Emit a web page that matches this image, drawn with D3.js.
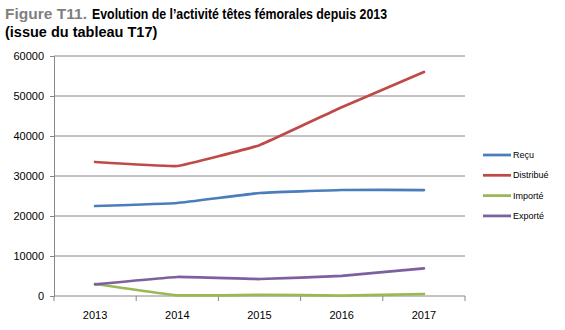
<!DOCTYPE html>
<html>
<head>
<meta charset="utf-8">
<script src="https://cdn.jsdelivr.net/npm/d3@7"></script>
<style>
    body { margin: 0; background: #fff; }
    svg { display: block; font-family: "Liberation Sans", Arial, sans-serif; }
</style>
</head>
<body>
<div id="chart"></div>
<script>
const years = ['2013', '2014', '2015', '2016', '2017'];
const recu = [22500, 23250, 25750, 26500, 26500];
const distribue = [33500, 32500, 37700, 47200, 56000];
const importe = [3000, 150, 300, 100, 500];
const exporte = [2900, 4750, 4250, 5050, 6900];
const yTicks = [0, 10000, 20000, 30000, 40000, 50000, 60000];

const series = [
    {name: 'Reçu', values: recu, color: '#4a7ebb'},
    {name: 'Distribué', values: distribue, color: '#be4b48'},
    {name: 'Importé', values: importe, color: '#98b954'},
    {name: 'Exporté', values: exporte, color: '#7d60a0'}
];

const width = 565;
const height = 330;
const margin = {top: 56, left: 54, right: 100, bottom: 34};
const chartWidth = width - margin.left - margin.right;
const chartHeight = height - margin.top - margin.bottom;

const svg = d3.select('#chart')
  .append('svg')
    .attr('width', width)
    .attr('height', height);

// title: the main part is squeezed horizontally, like in the source
svg.append('text')
    .attr('x', 5)
    .attr('y', 19)
    .attr('font-size', 14.5)
    .attr('font-weight', 'bold')
    .attr('fill', '#7f7f7f')
    .attr('textLength', 82)
    .attr('lengthAdjust', 'spacingAndGlyphs')
    .text('Figure T11.');
svg.append('text')
    .attr('x', 92)
    .attr('y', 19)
    .attr('font-size', 14.5)
    .attr('font-weight', 'bold')
    .attr('fill', '#000')
    .attr('textLength', 295)
    .attr('lengthAdjust', 'spacingAndGlyphs')
    .text('Evolution de l\u2019activité têtes fémorales depuis 2013');
svg.append('text')
    .attr('x', 5)
    .attr('y', 37)
    .attr('font-size', 14.5)
    .attr('font-weight', 'bold')
    .attr('fill', '#000')
    .text('(issue du tableau T17)');

const xScale = d3.scaleBand()
    .domain(years)
    .range([0, chartWidth]);

const yScale = d3.scaleLinear()
    .domain([0, 60000])
    .range([chartHeight, 0]);

const g = svg.append('g')
    .attr('transform', `translate(${margin.left},${margin.top})`);

// gridlines
g.append('g')
  .selectAll('line')
    .data(yTicks.slice(1))
  .enter().append('line')
    .attr('x1', 0)
    .attr('x2', chartWidth)
    .attr('y1', d => yScale(d))
    .attr('y2', d => yScale(d))
    .attr('stroke', '#868686')
    .attr('stroke-width', 1);

// y axis
const yAxis = g.append('g')
    .call(d3.axisLeft(yScale).tickValues(yTicks).tickSize(4).tickPadding(6).tickFormat(d3.format('d')));
yAxis.select('.domain').attr('stroke', '#868686');
yAxis.selectAll('.tick line').attr('stroke', '#868686');
yAxis.selectAll('text').attr('font-size', 11).attr('fill', '#000')
    .attr('font-family', '"Liberation Sans", Arial, sans-serif');

// x axis with ticks between categories
const xAxis = g.append('g')
    .attr('transform', `translate(0,${chartHeight})`);
xAxis.append('line')
    .attr('x1', 0).attr('x2', chartWidth)
    .attr('stroke', '#868686');
xAxis.selectAll('.xtick')
    .data(d3.range(years.length + 1))
  .enter().append('line')
    .attr('x1', i => i * xScale.bandwidth())
    .attr('x2', i => i * xScale.bandwidth())
    .attr('y1', 0)
    .attr('y2', 5)
    .attr('stroke', '#868686');
xAxis.selectAll('.xlabel')
    .data(years)
  .enter().append('text')
    .attr('x', d => xScale(d) + xScale.bandwidth() / 2)
    .attr('y', 23)
    .attr('text-anchor', 'middle')
    .attr('font-size', 11)
    .attr('fill', '#000')
    .text(d => d);

// lines, lightly smoothed
const line = d3.line()
    .x((d, i) => xScale(years[i]) + xScale.bandwidth() / 2)
    .y(d => yScale(d))
    .curve(d3.curveCardinal.tension(0.75));

g.selectAll('.series')
    .data(series)
  .enter().append('path')
    .attr('d', d => line(d.values))
    .attr('fill', 'none')
    .attr('stroke', d => d.color)
    .attr('stroke-width', 2.75)
    .attr('stroke-linecap', 'round')
    .attr('stroke-linejoin', 'round');

// legend
const legend = svg.append('g')
    .attr('transform', 'translate(483,155)');
const items = legend.selectAll('g')
    .data(series)
  .enter().append('g')
    .attr('transform', (d, i) => `translate(0,${i * 20.3})`);
items.append('line')
    .attr('x1', 0).attr('x2', 28)
    .attr('stroke', d => d.color)
    .attr('stroke-width', 2.75);
items.append('text')
    .attr('x', 30)
    .attr('y', 3)
    .attr('font-size', 9)
    .attr('fill', '#000')
    .text(d => d.name);
</script>
</body>
</html>
